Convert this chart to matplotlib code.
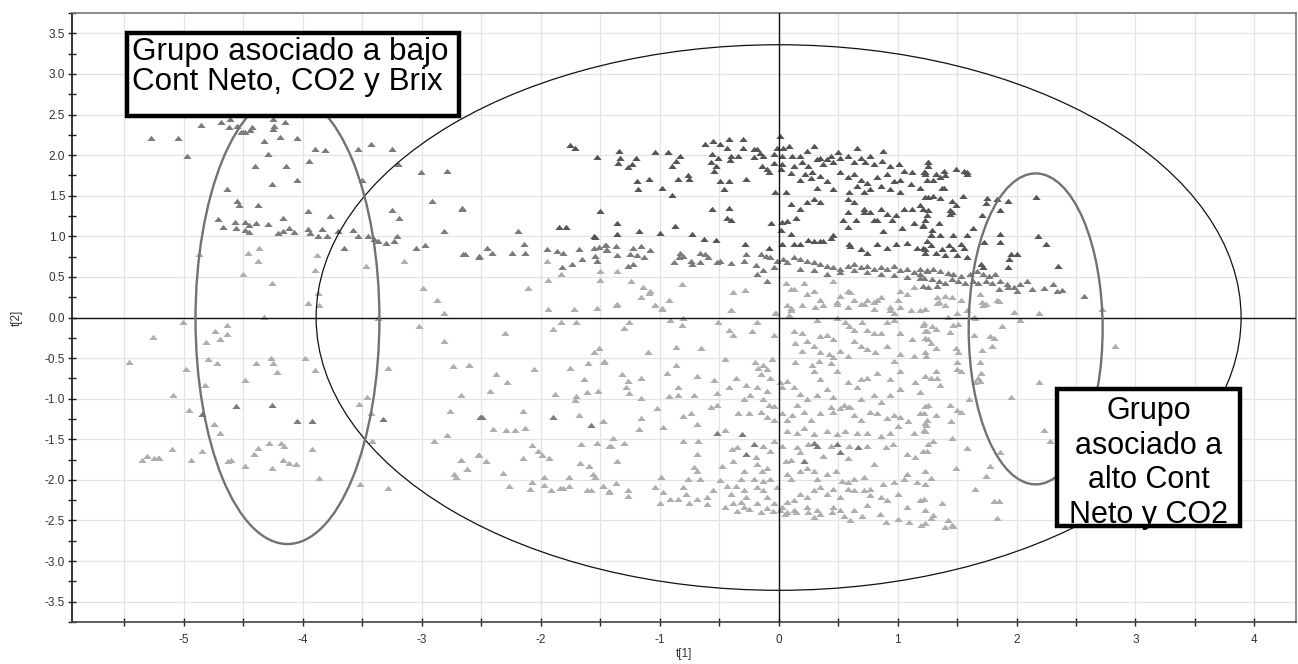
import numpy as np
import matplotlib.pyplot as plt
from matplotlib.patches import Ellipse, Rectangle

plt.rcParams['font.family'] = ['Liberation Sans', 'DejaVu Sans']

# score plot t[1] vs t[2], grouped by shade
dark_pts = [
    (-1.34, 2.05), (-1.33, 1.97), (-1.35, 1.90), (-1.27, 1.86), (-1.23, 1.89), (-1.20, 1.97),
    (-1.04, 2.04), (-0.93, 2.04), (-0.83, 1.99), (-0.86, 1.93), (-0.90, 1.87), (-0.62, 2.14),
    (-0.55, 2.18), (-0.49, 2.14), (-0.42, 2.20), (-0.30, 2.20), (-0.43, 2.09), (-0.56, 2.02),
    (-0.51, 1.97), (-0.57, 1.91), (-0.53, 1.87), (-0.54, 1.81), (-0.40, 1.99), (-0.41, 1.94),
    (-0.34, 1.99), (-0.30, 2.09), (-0.21, 2.07), (-0.18, 2.07), (-0.16, 2.03), (-0.21, 1.98),
    (-0.13, 1.99), (-0.14, 1.87), (-0.10, 1.83), (-0.08, 1.79), (-0.04, 2.01), (-0.01, 2.09),
    (0.015, 2.23), (0.04, 2.09), (0.09, 2.11), (0.03, 1.99), (-0.04, 1.90), (0.03, 1.89),
    (0.02, 1.83), (0.11, 1.99), (0.13, 1.87), (0.10, 1.78), (0.18, 1.99), (0.20, 1.92),
    (0.24, 2.05), (0.30, 2.11), (0.25, 1.87), (0.22, 1.77), (0.28, 1.79), (0.32, 1.95),
    (0.35, 1.97), (0.37, 1.89), (0.41, 1.95), (0.44, 1.99), (0.50, 2.04), (0.46, 1.91),
    (0.52, 1.97), (0.58, 1.99), (0.66, 2.09), (0.63, 1.91), (0.69, 1.97), (0.73, 1.91),
    (0.77, 1.99), (0.80, 1.89), (0.88, 2.05), (0.87, 1.93), (0.94, 1.87), (1.01, 1.89),
    (1.05, 1.81), (1.12, 1.79), (1.23, 1.79), (1.26, 1.91), (0.18, 1.70), (0.27, 1.72),
    (0.35, 1.74), (0.41, 1.68), (0.52, 1.79), (0.58, 1.73), (0.63, 1.77), (0.69, 1.70),
    (0.74, 1.66), (0.83, 1.73), (0.91, 1.77), (0.97, 1.68), (1.02, 1.70), (1.11, 1.64),
    (1.19, 1.60), (1.25, 1.70), (0.32, 1.60), (0.46, 1.58), (0.59, 1.54), (0.66, 1.62),
    (0.72, 1.54), (0.77, 1.58), (0.86, 1.62), (0.94, 1.58), (1.02, 1.54), (0.30, 1.46),
    (0.24, 1.42), (0.18, 1.34), (0.35, 1.42), (0.58, 1.46), (0.63, 1.42), (0.72, 1.34),
    (0.77, 1.30), (0.86, 1.34), (0.91, 1.28), (0.99, 1.26), (1.05, 1.34), (1.12, 1.34),
    (1.19, 1.38), (1.26, 1.48),
    (-1.19, 1.68), (-1.18, 1.58), (-1.09, 1.71), (-0.98, 1.60), (-0.90, 1.51), (-0.85, 1.71),
    (-0.76, 1.75), (-0.75, 1.71), (-0.49, 1.68), (-0.42, 1.68), (-0.46, 1.58), (-0.27, 1.71),
    (-0.56, 1.34), (-0.42, 1.35), (-0.43, 1.23), (-0.40, 1.20), (-0.03, 1.55), (0.06, 1.54),
    (0.10, 1.40), (0.15, 1.23), (0.07, 1.19), (0.03, 1.18), (-0.06, 1.17), (0.02, 1.08),
    (0.10, 1.03), (0.25, 0.96), (0.30, 0.94), (0.37, 0.94), (0.44, 0.98), (0.46, 1.02),
    (0.58, 1.12), (0.59, 0.90), (0.65, 1.20), (0.72, 1.30), (0.54, 1.20), (0.58, 1.30),
    (0.80, 1.20), (0.83, 1.20), (0.88, 1.06), (0.95, 1.20), (1.04, 1.10), (1.14, 1.16),
    (1.21, 1.14), (1.25, 1.26), (-1.36, 1.17), (-1.36, 1.03), (-1.17, 1.06), (-1.00, 1.04),
    (-0.87, 1.13), (-0.73, 1.03), (-0.63, 0.97), (-0.53, 0.95), (-0.28, 0.91), (-0.08, 0.86),
    (0.03, 0.91), (0.13, 0.90), (0.18, 0.90), (0.35, 0.94), (0.60, 0.88), (0.69, 0.84),
    (0.74, 0.80), (0.83, 0.90), (0.91, 0.86), (0.99, 0.90), (1.08, 0.92), (1.16, 0.86),
    (1.23, 0.84), (1.28, 1.02),
    (-1.75, 2.12), (-1.71, 2.09), (-1.53, 1.98), (-1.50, 1.31), (-1.85, 1.11), (-1.79, 1.12),
    (-1.55, 1.01), (-1.54, 0.99),
    (1.26, 1.91), (1.26, 1.87), (1.22, 1.79), (1.23, 1.77), (1.32, 1.77), (1.30, 1.70),
    (1.39, 1.81), (1.40, 1.75), (1.36, 1.73), (1.49, 1.83), (1.56, 1.81), (1.58, 1.77),
    (1.58, 1.79), (1.37, 1.59), (1.39, 1.59), (1.23, 1.48), (1.30, 1.50), (1.36, 1.47),
    (1.46, 1.43), (1.49, 1.39), (1.55, 1.50), (1.44, 1.32), (1.46, 1.30), (1.44, 1.28),
    (1.26, 1.33), (1.21, 1.34), (1.23, 1.20), (1.35, 1.16), (1.21, 1.13), (1.29, 1.08),
    (1.28, 1.02), (1.36, 1.02), (1.47, 1.02), (1.58, 1.02), (1.63, 1.10), (1.75, 1.47),
    (1.84, 1.46), (1.93, 1.44), (1.86, 1.32), (1.71, 1.26), (1.74, 1.41), (2.16, 1.48),
    (2.18, 1.00), (2.25, 0.91), (1.86, 1.03), (1.86, 0.93), (1.73, 0.93), (1.25, 0.94),
    (1.28, 0.89), (1.21, 0.86), (1.43, 0.89), (1.53, 0.90), (1.37, 0.84), (1.47, 0.84),
    (1.56, 0.86), (1.23, 0.80), (1.32, 0.80), (1.40, 0.77), (1.50, 0.77), (1.58, 0.74),
    (1.95, 0.78), (2.00, 0.78), (1.94, 0.72), (1.70, 0.66), (1.72, 0.62), (1.93, 0.62),
    (2.35, 0.64),
]

mid_pts = [
    (-1.46, 0.89), (-1.37, 0.88), (-1.44, 0.83), (-1.36, 0.77), (-1.22, 0.86), (-1.16, 0.88),
    (-1.19, 0.77), (-1.25, 0.78), (-1.13, 0.74), (-1.08, 0.83), (-1.27, 0.64), (-1.22, 0.66),
    (-0.83, 0.80), (-0.84, 0.74), (-0.80, 0.76), (-0.88, 0.69), (-0.74, 0.70), (-0.73, 0.66),
    (-0.66, 0.80), (-0.62, 0.78), (-0.59, 0.74), (-0.66, 0.68), (-0.52, 0.68), (-0.49, 0.70),
    (-0.40, 0.67), (-0.27, 0.78), (-0.29, 0.70), (-0.19, 0.65), (-0.15, 0.78), (-0.11, 0.76),
    (-0.07, 0.74), (-0.13, 0.58), (-0.18, 0.53), (-0.10, 0.45), (-0.04, 0.62), (-0.01, 0.70),
    (0.04, 0.72), (0.07, 0.68), (0.13, 0.74), (0.18, 0.72), (0.24, 0.70), (0.30, 0.68),
    (0.35, 0.66), (0.41, 0.64), (0.46, 0.62), (0.52, 0.60), (0.58, 0.64), (0.63, 0.66),
    (0.69, 0.62), (0.74, 0.64), (0.80, 0.60), (0.86, 0.62), (0.91, 0.60), (0.97, 0.64),
    (1.02, 0.58), (1.08, 0.60), (1.14, 0.56), (1.19, 0.54), (1.25, 0.58), (0.18, 0.60),
    (0.30, 0.58), (0.41, 0.54), (0.52, 0.56), (0.63, 0.58), (0.74, 0.56), (0.86, 0.54),
    (0.97, 0.52), (1.08, 0.50), (1.19, 0.49),
    (1.19, 0.60), (1.25, 0.57), (1.30, 0.60), (1.36, 0.57), (1.42, 0.55), (1.47, 0.53),
    (1.53, 0.51), (1.61, 0.54), (1.67, 0.57), (1.72, 0.53), (1.77, 0.51), (1.82, 0.53),
    (1.22, 0.49), (1.29, 0.47), (1.35, 0.45), (1.40, 0.43), (1.46, 0.47), (1.51, 0.45),
    (1.57, 0.43), (1.63, 0.45), (1.68, 0.42), (1.74, 0.45), (1.79, 0.43), (1.86, 0.45),
    (1.92, 0.41), (1.98, 0.37), (2.03, 0.41), (2.09, 0.45), (2.13, 0.35), (2.23, 0.36),
    (2.34, 0.33), (2.38, 0.34), (2.31, 0.41), (2.57, 0.27), (1.21, 0.39), (1.26, 0.37),
    (1.33, 0.39), (1.85, 0.35), (1.93, 0.37), (2.00, 0.33),
    (-2.66, 1.34), (-2.19, 1.07), (-2.45, 0.86), (-2.41, 0.80), (-2.64, 0.78), (-2.52, 0.76),
    (-2.24, 0.80), (-2.14, 0.91), (-2.13, 0.80), (-1.95, 0.85), (-1.86, 0.82), (-1.81, 0.80),
    (-1.68, 0.85), (-1.55, 0.86), (-1.51, 0.87), (-1.45, 0.89), (-1.45, 0.83), (-1.54, 0.76),
    (-1.53, 0.70), (-1.65, 0.72), (-1.74, 0.66), (-1.82, 0.62),
    # group on the left
    (-5.28, 2.21), (-5.05, 2.21), (-4.97, 1.99), (-4.86, 2.37), (-4.69, 2.41), (-4.61, 2.44),
    (-4.62, 2.35), (-4.55, 2.36), (-4.49, 2.29), (-4.44, 2.31), (-4.43, 2.35), (-4.25, 2.44),
    (-4.24, 2.36), (-4.25, 2.32), (-4.15, 2.41), (-4.33, 2.18), (-4.19, 2.22), (-4.05, 2.21),
    (-4.29, 2.01), (-4.40, 1.87), (-4.14, 1.87), (-4.05, 1.70), (-4.26, 1.64), (-3.95, 1.93),
    (-3.90, 2.08), (-3.81, 2.06), (-4.64, 1.58), (-4.55, 1.44), (-4.54, 1.39), (-4.38, 1.38),
    (-3.54, 2.08), (-3.43, 2.14), (-3.25, 2.07), (-3.20, 1.89), (-3.01, 1.79), (-2.79, 1.81),
    (-3.50, 1.69), (-2.91, 1.43), (-2.66, 1.35), (-3.25, 1.33), (-3.19, 1.23), (-3.96, 1.31),
    (-3.77, 1.25), (-4.17, 1.23), (-4.71, 1.21), (-4.67, 1.11), (-4.57, 1.18), (-4.56, 1.10),
    (-4.49, 1.18), (-4.49, 1.08), (-4.45, 1.14), (-4.45, 1.05), (-4.39, 1.16), (-4.29, 1.15),
    (-4.21, 1.04), (-4.17, 1.06), (-4.12, 1.10), (-4.07, 1.05), (-3.96, 1.09), (-3.94, 1.04),
    (-3.87, 1.00), (-3.84, 1.09), (-3.80, 1.00), (-3.70, 1.06), (-3.65, 0.86), (-3.58, 1.08),
    (-3.54, 1.00), (-3.45, 1.01), (-3.40, 0.97), (-3.37, 0.94), (-3.30, 0.92), (-3.23, 0.94),
    (-3.21, 1.01), (-3.05, 0.86), (-2.97, 0.89), (-2.81, 1.07), (-2.65, 0.78), (-2.52, 0.75),
    (-4.52, 2.28), (-4.50, 2.28),
    # darker points among the lower ones
    (-4.85, -1.19), (-4.56, -1.09), (-4.26, -1.08), (-4.05, -1.27), (-3.92, -1.28),
    (-3.33, -1.25), (-2.51, -1.23), (-2.49, -1.22), (-1.90, -1.22), (-1.58, -1.32),
    (-0.52, -1.42), (-0.31, -1.44), (-0.27, -1.68), (-0.21, -1.56), (0.21, -1.77),
    (0.30, -1.54), (0.32, -1.58), (0.49, -1.56), (0.52, -1.66), (0.67, -1.60),
]

light_pts = [
    (-1.36, 0.57), (-1.36, 0.17), (-1.24, 0.45), (-1.14, 0.38), (-1.08, 0.33), (-1.09, 0.30),
    (-1.16, 0.25), (-1.04, 0.15), (-0.98, 0.11), (-0.92, 0.22), (-0.81, 0.41), (-0.38, 0.32),
    (-0.28, 0.34), (-0.40, 0.09), (-0.02, 0.06), (0.06, 0.43), (0.10, 0.35), (0.13, 0.35),
    (0.07, 0.15), (0.10, 0.09), (0.21, 0.42), (0.24, 0.29), (0.30, 0.33), (0.35, 0.21),
    (0.46, 0.45), (0.49, 0.19), (0.52, 0.27), (0.58, 0.33), (0.60, 0.32), (0.63, 0.21),
    (0.72, 0.17), (0.74, 0.21), (0.80, 0.19), (0.83, 0.21), (0.86, 0.25), (0.94, 0.13),
    (0.97, 0.05), (1.00, 0.21), (1.02, 0.33), (1.08, 0.29), (1.14, 0.37), (1.19, 0.09),
    (-1.37, 0.16), (-1.04, 0.16), (-0.98, 0.12), (-0.40, 0.09), (-0.03, 0.06), (0.10, 0.12),
    (0.09, 0.03), (0.20, 0.15), (0.31, 0.13), (0.37, 0.15), (0.49, 0.17), (0.58, 0.13),
    (0.69, 0.17), (0.80, 0.11), (0.94, 0.09), (1.02, 0.13), (1.11, 0.09), (1.23, 0.11),
    (-1.26, -0.06), (-1.30, -0.13), (-0.91, -0.03), (-0.81, -0.09), (-0.80, -0.01), (-0.51, -0.06),
    (-0.42, -0.15), (-0.38, -0.21), (-0.22, -0.17), (-0.18, -0.05), (-0.04, -0.21), (0.13, -0.17),
    (0.20, -0.19), (0.14, -0.31), (0.24, -0.29), (0.30, -0.35), (0.20, -0.41), (0.35, -0.23),
    (0.41, -0.21), (0.46, -0.27), (0.32, -0.03), (0.49, -0.01), (0.56, -0.05), (0.59, -0.11),
    (0.63, -0.15), (0.70, -0.05), (0.74, -0.15), (0.80, -0.19), (0.86, -0.19), (0.91, -0.05),
    (0.97, -0.03), (1.02, -0.19), (1.12, -0.27), (1.21, -0.09), (1.25, -0.17), (-0.86, -0.36),
    (-0.65, -0.37), (-1.10, -0.43), (0.35, -0.43), (0.42, -0.45), (0.46, -0.49), (0.52, -0.41),
    (0.58, -0.47), (0.63, -0.29), (0.69, -0.35), (0.74, -0.39), (0.81, -0.43), (0.91, -0.35),
    (0.97, -0.53), (1.02, -0.45), (1.14, -0.47), (1.23, -0.43), (-1.47, -0.55), (-1.32, -0.70),
    (-1.27, -0.78), (-1.16, -0.74), (-1.28, -0.85), (-1.26, -0.93), (-0.94, -0.68), (-0.86, -0.58),
    (-0.85, -0.85), (-0.85, -0.95), (-0.92, -0.97), (-0.69, -0.72), (-0.71, -0.96), (-0.54, -0.77),
    (-0.52, -0.93), (-0.45, -0.51), (-0.42, -0.86), (-0.36, -0.75), (-0.20, -0.55), (-0.17, -0.62),
    (-0.13, -0.58), (-0.10, -0.64), (-0.055, -0.51), (-0.15, -0.70), (-0.07, -0.74), (0.015, -0.80),
    (0.03, -0.86), (-0.10, -0.91), (-0.18, -0.86), (-0.27, -0.83), (-0.24, -0.96), (-0.13, -1.00),
    (-0.08, -1.08), (-0.04, -1.09), (-0.29, -1.00), (0.14, -0.55), (0.28, -0.59), (0.34, -0.53),
    (0.44, -0.56), (0.30, -0.66), (0.35, -0.76), (0.41, -0.88), (0.49, -0.66), (0.58, -0.80),
    (0.66, -0.86), (0.74, -0.74), (0.69, -0.76), (0.83, -0.68), (0.94, -0.76), (1.02, -0.66),
    (1.15, -0.80), (1.23, -0.72), (0.07, -0.78), (0.13, -0.86), (0.18, -0.94), (0.24, -1.00),
    (0.32, -0.96), (0.46, -0.98), (0.55, -1.08), (0.60, -1.10), (0.69, -1.00), (0.80, -0.96),
    (0.86, -1.04), (0.94, -0.96), (1.02, -0.88), (1.19, -0.92), (1.26, -1.08), (-1.16, -0.99),
    (-1.02, -1.12), (-0.57, -1.10), (-0.52, -1.08), (-0.80, -1.21), (-0.74, -1.17), (-0.69, -1.31),
    (-1.48, -1.28), (-1.16, -1.24), (-1.17, -1.37), (-0.97, -1.35), (-0.45, -1.38), (-0.34, -1.18),
    (-0.25, -1.18), (-0.15, -1.16), (-0.10, -1.22), (-0.04, -1.26), (0.03, -1.18), (0.07, -1.26),
    (0.11, -1.20), (0.155, -1.08), (0.21, -1.16), (0.27, -1.26), (0.35, -1.18), (0.44, -1.10),
    (0.46, -1.16), (0.52, -1.12), (0.58, -1.10), (0.63, -1.20), (0.69, -1.26), (0.77, -1.16),
    (0.83, -1.18), (0.91, -1.24), (0.97, -1.20), (1.02, -1.22), (1.09, -1.28), (1.19, -1.18),
    (1.23, -1.30), (0.07, -1.40), (0.155, -1.42), (0.21, -1.36), (0.30, -1.44), (0.41, -1.40),
    (0.49, -1.44), (0.56, -1.40), (0.66, -1.42), (0.74, -1.42), (0.86, -1.46), (0.94, -1.42),
    (1.00, -1.34), (1.14, -1.42), (1.22, -1.38), (-1.41, -1.58), (-1.30, -1.54), (-1.39, -1.48),
    (-0.80, -1.52), (-0.68, -1.52), (-0.69, -1.68), (-1.36, -1.77), (-0.39, -1.62), (-0.35, -1.60),
    (-0.19, -1.72), (-0.13, -1.58), (-0.07, -1.64), (-0.04, -1.52), (0.03, -1.58), (0.06, -1.77),
    (0.10, -1.75), (0.155, -1.60), (0.18, -1.66), (0.25, -1.56), (0.37, -1.70), (0.44, -1.58),
    (0.58, -1.73), (0.59, -1.58), (0.74, -1.58), (0.80, -1.81), (0.90, -1.60), (0.96, -1.56),
    (1.08, -1.68), (1.15, -1.72), (1.21, -1.64), (1.26, -1.56), (-0.71, -1.84), (-0.69, -1.89),
    (-0.48, -1.83), (-0.38, -1.77), (-0.18, -1.80), (-0.14, -1.89), (-0.10, -1.85), (-0.29, -1.89),
    (-0.99, -1.97), (-0.76, -1.99), (-0.66, -1.99), (-0.49, -2.00), (-0.32, -1.99), (-0.21, -1.99),
    (-0.13, -2.01), (-0.07, -1.99), (-0.01, -2.09), (0.07, -1.93), (0.10, -1.99), (0.18, -1.89),
    (0.24, -1.85), (0.30, -1.89), (0.32, -1.99), (0.41, -1.93), (0.48, -1.89), (0.53, -2.01),
    (0.58, -2.03), (0.63, -1.99), (0.72, -1.97), (0.77, -2.11), (0.88, -2.05), (0.97, -2.03),
    (1.05, -1.99), (1.08, -1.93), (1.16, -2.03), (1.23, -1.89), (-1.37, -2.04), (-1.27, -2.13),
    (-1.48, -2.08), (-1.43, -2.15), (-1.04, -2.09), (-0.97, -2.15), (-1.27, -2.20), (-0.80, -2.09),
    (-0.78, -2.17), (-0.91, -2.23), (-0.85, -2.23), (-0.69, -2.23), (-0.60, -2.21), (-0.55, -2.13),
    (-0.43, -2.07), (-0.36, -2.07), (-0.40, -2.17), (-0.29, -2.13), (-0.27, -2.21), (-0.32, -2.27),
    (-0.18, -2.09), (-0.13, -2.13), (-0.10, -2.21), (-0.04, -2.29), (0.03, -2.33), (0.07, -2.27),
    (0.13, -2.25), (0.18, -2.17), (0.24, -2.21), (0.30, -2.13), (0.35, -2.09), (0.41, -2.17),
    (0.46, -2.11), (0.52, -2.21), (0.58, -2.11), (0.63, -2.13), (0.72, -2.13), (0.77, -2.19),
    (0.86, -2.21), (0.91, -2.25), (1.00, -2.17), (1.08, -2.33), (1.19, -2.25), (1.23, -2.37),
    (-0.38, -2.29), (-0.29, -2.33), (-0.18, -2.29), (-0.10, -2.35), (0.015, -2.37), (0.07, -2.39),
    (0.13, -2.37), (0.24, -2.33), (0.32, -2.37), (0.46, -2.33), (0.52, -2.37), (0.63, -2.37),
    (0.74, -2.31), (-0.45, -2.33), (-0.35, -2.38), (-0.25, -2.36), (-0.15, -2.40), (-0.05, -2.38),
    (0.05, -2.42), (0.15, -2.40), (0.25, -2.40), (0.35, -2.42), (0.45, -2.40), (0.55, -2.44),
    (0.70, -2.45), (0.85, -2.42), (1.00, -2.48), (1.10, -2.52), (1.20, -2.55), (1.40, -2.58),
    (1.42, -2.50), (0.90, -2.52), (0.60, -2.50), (0.30, -2.46), (-0.60, -2.30), (-0.75, -2.28),
    (-1.00, -2.28),
    # right part
    (1.33, 0.25), (1.40, 0.27), (1.46, 0.25), (1.53, 0.21), (1.35, 0.19), (1.40, 0.16),
    (1.74, 0.17), (1.71, 0.19), (1.84, 0.21), (1.69, 0.29), (1.23, 0.10), (1.50, 0.06),
    (1.58, 0.09), (1.98, 0.07), (2.19, 0.06), (2.72, 0.10), (1.42, 0.01), (1.65, 0.00),
    (2.03, -0.03), (1.88, -0.10), (1.29, -0.11), (1.47, -0.09), (1.33, 0.18), (1.72, 0.16),
    (1.85, 0.20), (1.22, -0.07), (1.51, -0.08), (1.64, 0.01), (1.23, -0.16), (1.32, -0.14),
    (1.44, -0.18), (1.23, -0.25), (1.26, -0.27), (1.28, -0.31), (1.32, -0.37), (1.49, -0.37),
    (1.51, -0.43), (1.64, -0.22), (1.78, -0.23), (1.81, -0.25), (1.79, -0.35), (1.71, -0.40),
    (1.24, -0.47), (1.50, -0.55), (1.50, -0.64), (1.53, -0.66), (1.69, -0.55), (1.70, -0.68),
    (1.68, -0.74), (1.69, -0.78), (1.65, -0.79), (1.32, -0.66), (1.28, -0.74), (1.33, -0.74),
    (1.36, -0.83), (2.19, -0.80), (1.95, -0.98), (1.60, -1.00), (2.83, -0.35), (1.23, -1.09),
    (1.44, -1.08), (1.50, -1.14), (1.53, -1.16), (1.32, -1.20), (1.25, -1.26), (1.22, -1.18),
    (1.45, -1.27), (1.24, -1.32), (1.23, -1.40), (1.46, -1.48), (1.30, -1.52), (1.25, -1.64),
    (1.58, -1.61), (1.86, -1.66), (2.23, -1.39), (2.28, -1.52), (1.78, -1.83), (1.49, -1.85),
    (1.74, -1.95), (1.28, -1.98), (1.23, -2.05), (1.65, -2.11), (1.37, -2.29), (1.81, -2.26),
    (1.85, -2.26), (1.22, -2.24), (1.84, -2.47), (1.30, -2.43), (1.28, -2.47), (1.23, -2.53),
    (1.46, -2.56), (1.47, -2.57),
    # between the two groups
    (-1.95, 0.70), (-1.83, 0.54), (-1.50, 0.57), (-1.50, 0.46), (-1.94, 0.46), (-2.11, 0.36),
    (-1.94, 0.10), (-1.72, 0.10), (-1.53, 0.12), (-1.83, -0.05), (-1.70, -0.06), (-1.90, -0.14),
    (-2.30, -0.19), (-1.51, -0.37), (-1.55, -0.43), (-2.60, -0.58), (-2.38, -0.69), (-2.28, -0.80),
    (-2.06, -0.64), (-1.75, -0.62), (-1.60, -0.56), (-1.47, -0.54), (-1.64, -0.76), (-2.43, -0.91),
    (-1.88, -0.94), (-1.70, -0.97), (-1.61, -0.92), (-1.52, -0.90), (-1.71, -1.02), (-2.15, -1.15),
    (-1.68, -1.20), (-1.48, -1.28), (-2.40, -1.37), (-2.29, -1.38), (-2.22, -1.39), (-2.13, -1.36),
    (-2.07, -1.57), (-2.02, -1.64), (-1.99, -1.69), (-1.93, -1.73), (-2.15, -1.73), (-2.52, -1.69),
    (-2.46, -1.77), (-2.67, -1.75), (-2.62, -1.86), (-2.32, -1.91), (-2.27, -2.07), (-2.09, -2.11),
    (-2.07, -2.03), (-1.97, -1.96), (-1.97, -2.06), (-1.91, -2.13), (-1.84, -2.10), (-1.81, -2.10),
    (-1.76, -1.96), (-1.76, -2.07), (-1.67, -1.79), (-1.59, -1.83), (-1.56, -1.93), (-1.54, -1.97),
    (-1.66, -1.56), (-1.53, -1.54), (-1.43, -1.58), (-1.48, -2.08), (-1.61, -2.13), (-1.58, -2.13),
    (-1.43, -2.14),
    # group on the left
    (-4.37, 0.86), (-4.46, 0.79), (-4.38, 0.70), (-4.87, 0.78), (-4.50, 0.54), (-4.26, 0.42),
    (-3.88, 0.77), (-3.90, 0.58), (-3.47, 0.64), (-3.15, 0.70), (-2.99, 0.36), (-2.87, 0.22),
    (-2.81, 0.06), (-3.87, 0.30), (-3.96, 0.18), (-3.86, 0.15), (-4.33, 0.01), (-3.37, -0.01),
    (-5.01, -0.05), (-4.64, -0.09), (-4.74, -0.16), (-4.64, -0.20), (-4.70, -0.26), (-4.81, -0.30),
    (-5.26, -0.24), (-5.46, -0.55), (-4.80, -0.51), (-4.72, -0.56), (-4.98, -0.63), (-4.39, -0.56),
    (-4.27, -0.50), (-4.25, -0.56), (-4.22, -0.67), (-4.49, -0.77), (-4.82, -0.83), (-5.09, -0.95),
    (-4.96, -1.14), (-4.75, -1.31), (-4.70, -1.42), (-3.98, -0.50), (-3.90, -0.65), (-4.28, -1.54),
    (-4.18, -1.54), (-4.16, -1.58), (-4.38, -1.61), (-4.41, -1.68), (-3.92, -1.62), (-5.10, -1.62),
    (-4.85, -1.64), (-4.94, -1.76), (-5.25, -1.73), (-5.22, -1.73), (-5.35, -1.75), (-5.31, -1.70),
    (-5.21, -1.73), (-4.63, -1.77), (-4.60, -1.75), (-4.49, -1.83), (-4.26, -1.85), (-4.17, -1.75),
    (-4.12, -1.79), (-4.06, -1.81), (-3.86, -1.98), (-3.53, -1.07), (-3.46, -0.98), (-3.43, -1.18),
    (-3.52, -2.05), (-3.42, -1.52), (-3.28, -2.10), (-3.28, -0.62), (-3.02, -0.11), (-2.81, -0.29),
    (-2.74, -0.60), (-2.60, -0.58), (-2.67, -0.96), (-2.76, -1.15), (-2.79, -1.45), (-2.90, -1.52),
    (-2.67, -1.76), (-2.62, -1.87), (-2.73, -1.93), (-2.71, -1.97), (-2.53, -1.69),
]

x_ticks = [-5, -4, -3, -2, -1, 0, 1, 2, 3, 4]
y_ticks = [-3.5, -3.0, -2.5, -2.0, -1.5, -1.0, -0.5, 0.0, 0.5, 1.0, 1.5, 2.0, 2.5, 3.0, 3.5]

left_label = 'Grupo asociado a bajo\nCont Neto, CO2 y Brix'
right_label = 'Grupo\nasociado a\nalto Cont\nNeto y CO2'

# flat triangle like the markers in the source image
tri = [(-1.0, -0.6), (1.0, -0.6), (0.0, 0.65), (-1.0, -0.6)]

fig = plt.figure(figsize=(12.98, 6.64), dpi=100)
ax = fig.add_axes([0.0555, 0.0633, 0.943, 0.917])

ax.set_xlim(-5.94, 4.35)
ax.set_ylim(-3.68, 3.69)
ax.set_xticks(x_ticks)
ax.set_xticks(np.arange(-5.5, 4.5, 1.0), minor=True)
ax.set_yticks(y_ticks)
ax.set_yticks(np.arange(-3.75, 3.76, 0.5), minor=True)
ax.set_xticklabels([str(v) for v in x_ticks])
ax.set_yticklabels(['%.1f' % v for v in y_ticks])
ax.grid(True, which='major', color='#e3e3e3', lw=0.9, zorder=0)
ax.grid(True, which='minor', axis='x', color='#e3e3e3', lw=0.9, zorder=0)
ax.set_axisbelow(True)
ax.tick_params(axis='both', which='both', direction='inout', length=6, width=1,
               labelsize=8.5, labelcolor='#333333', color='#222222')
ax.tick_params(axis='x', pad=6)
ax.tick_params(axis='y', pad=2)
for s in ['top', 'right']:
    ax.spines[s].set_color('#777777')
    ax.spines[s].set_linewidth(1.2)
ax.spines['left'].set_color('#111111')
ax.spines['bottom'].set_color('#444444')
ax.spines['left'].set_linewidth(1.2)
ax.spines['bottom'].set_linewidth(1.2)

for pts, col in [(light_pts, '#aeaeae'), (mid_pts, '#7b7b7b'), (dark_pts, '#555555')]:
    a = np.array(pts)
    ax.scatter(a[:, 0], a[:, 1], marker=tri, s=36, c=col, linewidths=0, zorder=2)

ax.axhline(0, color='#111111', lw=1.0, zorder=3)
ax.axvline(0, color='#111111', lw=1.0, zorder=3)

ax.add_patch(Ellipse((0, 0), 7.776, 6.72, fill=False, ec='#111111', lw=0.9, zorder=3))
ax.add_patch(Ellipse((-4.129, -0.02), 1.546, 5.54, fill=False, ec='#727272', lw=1.7, zorder=3))
ax.add_patch(Ellipse((2.161, -0.14), 1.126, 3.83, fill=False, ec='#727272', lw=1.7, zorder=3))

# text boxes
ax.add_patch(Rectangle((-5.48, 2.48), 2.79, 1.02, fc='white', ec='black', lw=3.2, zorder=5))
ax.text(-5.435, 3.09, left_label, fontsize=22.6, ha='left', va='center', linespacing=0.99,
        color='black', zorder=6)
ax.add_patch(Rectangle((2.34, -2.57), 1.54, 1.69, fc='white', ec='black', lw=3.2, zorder=5))
ax.text(3.11, -1.79, right_label, fontsize=22, ha='center', va='center', linespacing=1.2,
        color='black', zorder=6)

ax.set_xlabel('t[1]', fontsize=8.5, color='#333333', labelpad=1)
ax.set_ylabel('t[2]', fontsize=8.5, color='#333333', labelpad=16)

fig.savefig('out.png', dpi=100)
